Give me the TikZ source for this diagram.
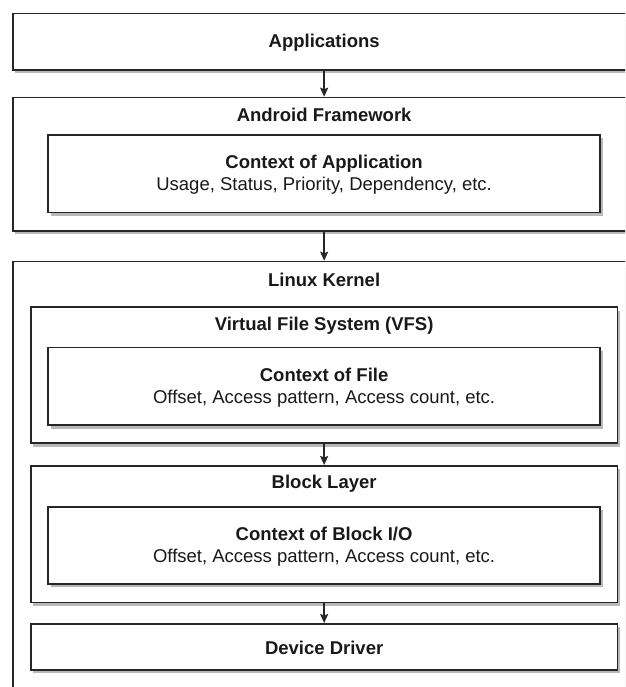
\documentclass[tikz,border=0pt]{standalone}
\usepackage{fontspec}
\setmainfont{Liberation Sans}
\usepackage{tikz}
\usetikzlibrary{shadows,arrows.meta}

\begin{document}
\begin{tikzpicture}[x=1pt,y=-1pt,
  layer/.style={draw=black!85,line width=1.6pt,fill=white,anchor=north west,inner sep=0pt,
    drop shadow={shadow xshift=2.5pt,shadow yshift=-3.5pt,fill=black!55}},
  title/.style={font=\fontsize{18.5}{22}\selectfont\bfseries,text=black!90},
  body/.style={font=\fontsize{18.5}{22}\selectfont,text=black!90,align=center},
  flow/.style={-{Stealth[length=9pt,width=8pt,inset=1.5pt]},line width=1.6pt,draw=black!85}]
\useasboundingbox (0,0) rectangle (625,687);
\clip (0,0) rectangle (625,687);
\node[layer,minimum width=622.7pt,minimum height=56.3pt] (apps) at (12,12.7) {};
\node[title] (appslbl) at ([yshift=-1.5pt]apps.center) {Applications};
\node[layer,minimum width=622.7pt,minimum height=133.3pt] (andfw) at (12,96.7) {};
\node[title] (andfwlbl) at ([yshift=-18.5pt]andfw.north) {Android Framework};
\node[layer,minimum width=552pt,minimum height=77.7pt] (ctxapp) at (47.3,134) {};
\node[body] (ctxapplbl) at ([yshift=-1pt]ctxapp.center) {\textbf{Context of Application}\\Usage, Status, Priority, Dependency, etc.};
\node[layer,minimum width=622.7pt,minimum height=450pt] (kernel) at (12,260.7) {};
\node[title] (kernellbl) at ([yshift=-19pt]kernel.north) {Linux Kernel};
\node[layer,minimum width=586.7pt,minimum height=136pt] (vfs) at (30,306.3) {};
\node[title] (vfslbl) at ([yshift=-19pt]vfs.north) {Virtual File System (VFS)};
\node[layer,minimum width=552pt,minimum height=77.6pt] (ctxfile) at (47.3,346.7) {};
\node[body] (ctxfilelbl) at ([yshift=-1pt]ctxfile.center) {\textbf{Context of File}\\Offset, Access pattern, Access count, etc.};
\node[layer,minimum width=586.7pt,minimum height=136.5pt] (block) at (30,465) {};
\node[title] (blocklbl) at ([yshift=-19pt]block.north) {Block Layer};
\node[layer,minimum width=552pt,minimum height=77pt] (ctxblk) at (47.3,506) {};
\node[body] (ctxblklbl) at ([yshift=-1pt]ctxblk.center) {\textbf{Context of Block I/O}\\Offset, Access pattern, Access count, etc.};
\node[layer,minimum width=586.7pt,minimum height=46pt] (driver) at (30,623) {};
\node[title] (driverlbl) at ([yshift=-1.5pt]driver.center) {Device Driver};
\draw[flow] (apps.south) -- (andfw.north);
\draw[flow] (andfw.south) -- (kernel.north);
\draw[flow] (vfs.south) -- (block.north);
\draw[flow] (block.south) -- (driver.north);
\end{tikzpicture}
\end{document}
